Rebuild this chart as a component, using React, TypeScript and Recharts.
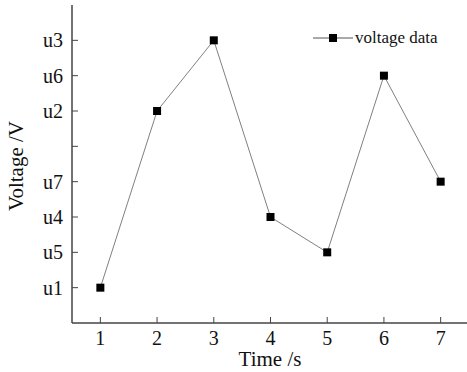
import { Line, LineChart, XAxis, YAxis } from "recharts";

// measurement points
const times = [1, 2, 3, 4, 5, 6, 7];
const voltages = ["u1", "u2", "u3", "u4", "u5", "u6", "u7"];

// order of the voltage levels on the vertical axis, bottom to top ("" = unlabeled slot)
const levels = ["u1", "u5", "u4", "u7", "", "u2", "u6", "u3"];

const data = times.map((t, i) => ({
  time: t,
  level: levels.indexOf(voltages[i]) + 1,
}));

const FONT = "'Liberation Serif', 'Times New Roman', serif";
const AXIS = "#444";

function XTick(props: any) {
  const { x, y, payload } = props;
  return (
    <g>
      <line x1={x} x2={x} y1={y} y2={y - 6} stroke={AXIS} strokeWidth={1} />
      <text x={x} y={y + 22} textAnchor="middle" fontFamily={FONT} fontSize={20} fill="#111">
        {payload.value}
      </text>
    </g>
  );
}

function YTick(props: any) {
  const { x, y, payload } = props;
  return (
    <g>
      <line x1={x} x2={x + 6} y1={y} y2={y} stroke={AXIS} strokeWidth={1} />
      <text x={x - 9} y={y + 7} textAnchor="end" fontFamily={FONT} fontSize={20} fill="#111">
        {levels[payload.value - 1]}
      </text>
    </g>
  );
}

function XTitle(props: any) {
  const { viewBox } = props;
  return (
    <text x={270} y={viewBox.y + 43} textAnchor="middle" fontFamily={FONT} fontSize={21} fill="#111">
      Time /s
    </text>
  );
}

function YTitle(props: any) {
  const { viewBox } = props;
  const cx = 23;
  const cy = viewBox.y + viewBox.height / 2 + 2;
  return (
    <text x={cx} y={cy} transform={`rotate(-90 ${cx} ${cy})`} textAnchor="middle" fontFamily={FONT} fontSize={21} fill="#111">
      Voltage /V
    </text>
  );
}

function Square(props: any) {
  const { cx, cy } = props;
  return <rect x={cx - 4} y={cy - 4} width={8} height={8} fill="#000" />;
}

export default function App() {
  return (
    <div style={{ position: "absolute", left: 0, top: 0, width: 467, height: 372, overflow: "hidden", background: "#fff" }}>
      <LineChart width={480} height={372} data={data} margin={{ top: 5, right: 11, left: 0, bottom: 0 }}>
        <XAxis
          dataKey="time"
          type="number"
          domain={[0.5, 7.5]}
          ticks={times}
          height={49}
          axisLine={{ stroke: AXIS, strokeWidth: 1.5 }}
          tickLine={false}
          tickSize={0}
          tickMargin={0}
          tick={<XTick />}
          label={<XTitle />}
        />
        <XAxis xAxisId="top" orientation="top" dataKey="time" type="number" domain={[0.5, 7.5]} height={0} tick={false} tickLine={false} axisLine={{ stroke: AXIS, strokeWidth: 1.5 }} />
        <YAxis
          type="number"
          domain={[0, 9]}
          ticks={[1, 2, 3, 4, 5, 6, 7, 8]}
          width={72}
          axisLine={{ stroke: AXIS, strokeWidth: 1.5 }}
          tickLine={false}
          tickSize={0}
          tickMargin={0}
          tick={<YTick />}
          label={<YTitle />}
        />
        <YAxis yAxisId="right" orientation="right" domain={[0, 9]} width={0} tick={false} tickLine={false} axisLine={{ stroke: AXIS, strokeWidth: 1.5 }} />
        <Line
          dataKey="level"
          stroke="#808080"
          strokeWidth={1}
          dot={<Square />}
          activeDot={false}
          isAnimationActive={false}
        />
      </LineChart>
      <svg width={140} height={24} style={{ position: "absolute", left: 312, top: 28 }}>
        <line x1={1} x2={41} y1={10} y2={10} stroke="#555" strokeWidth={1} />
        <rect x={17} y={6} width={8} height={8} fill="#000" />
        <text x={43} y={15} fontFamily={FONT} fontSize={17} fill="#111">
          voltage data
        </text>
      </svg>
    </div>
  );
}
